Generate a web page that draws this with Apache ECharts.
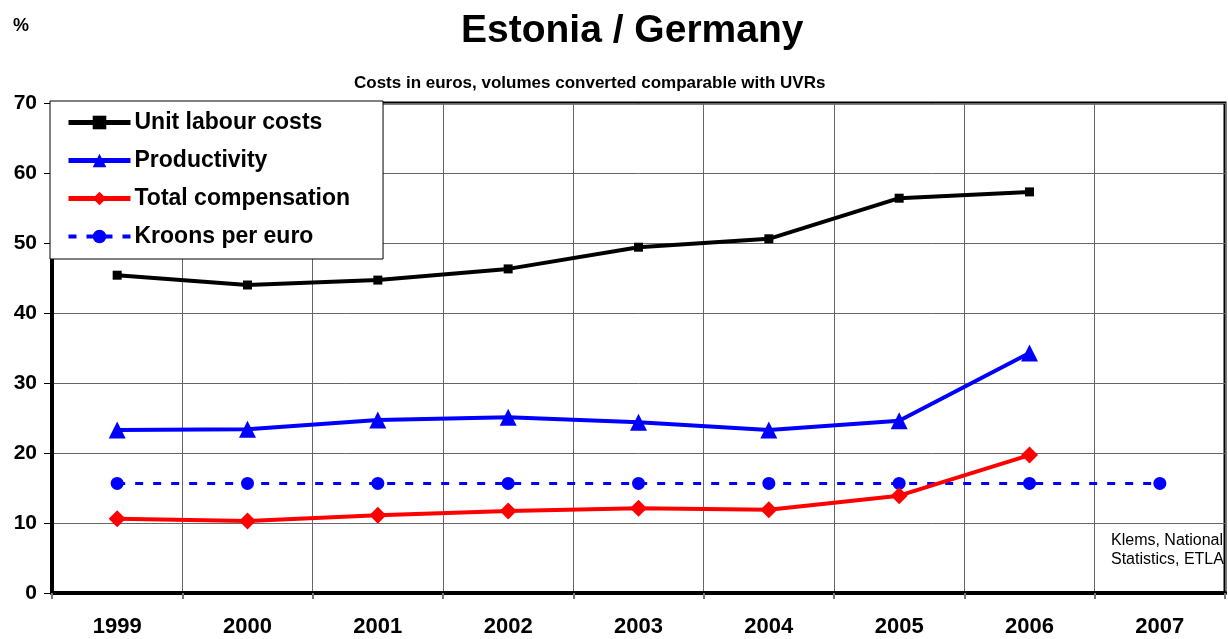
<!DOCTYPE html>
<html>
<head>
<meta charset="utf-8">
<script src="https://cdn.jsdelivr.net/npm/echarts@6/dist/echarts.min.js"></script>
<style>
  html, body { margin: 0; padding: 0; background: #fff; }
  #main { width: 1228px; height: 639px; }
</style>
</head>
<body>
<div id="main"></div>
<script>
// years on the x axis
var years = ['1999', '2000', '2001', '2002', '2003', '2004', '2005', '2006', '2007'];
// series, % Estonia vs Germany
var unitLabourCosts = [45.4, 44.0, 44.7, 46.3, 49.4, 50.6, 56.4, 57.3, null];
var productivity = [23.3, 23.4, 24.7, 25.1, 24.4, 23.3, 24.6, 34.3, null];
var totalCompensation = [10.6, 10.3, 11.1, 11.7, 12.1, 11.9, 13.9, 19.7, null];
var kroonsPerEuro = [15.65, 15.65, 15.65, 15.65, 15.65, 15.65, 15.65, 15.65, 15.65];

var font = '"Liberation Sans", Arial, sans-serif';
var chart = echarts.init(document.getElementById('main'));

chart.setOption({
  animation: false,
  textStyle: { fontFamily: font },
  title: [
    {
      text: 'Estonia / Germany',
      left: 456,
      top: 7,
      textStyle: { fontFamily: font, fontSize: 39, fontWeight: 'bold', color: '#000' }
    },
    {
      text: '%',
      left: 8,
      top: 12,
      textStyle: { fontFamily: font, fontSize: 18, fontWeight: 'bold', color: '#000' }
    },
    {
      text: 'Costs in euros, volumes converted comparable with UVRs',
      left: 349,
      top: 70,
      textStyle: { fontFamily: font, fontSize: 17, fontWeight: 'bold', color: '#000' }
    },
    {
      text: 'Klems, National\nStatistics, ETLA',
      left: 1106,
      top: 526,
      textStyle: { fontFamily: font, fontSize: 16, fontWeight: 'normal', color: '#000', lineHeight: 19 }
    }
  ],
  legend: {
    orient: 'vertical',
    left: 50,
    top: 101,
    padding: [10, 33, 11, 16],
    itemGap: 15,
    itemWidth: 62,
    itemHeight: 17,
    backgroundColor: '#fff',
    borderColor: '#000',
    borderWidth: 1,
    textStyle: { fontFamily: font, fontSize: 23, fontWeight: 'bold', color: '#000', padding: [0, 0, 0, -1] },
    data: [
      { name: 'Unit labour costs', lineStyle: { width: 5 } },
      { name: 'Productivity', lineStyle: { width: 5 } },
      { name: 'Total compensation', lineStyle: { width: 5 } },
      { name: 'Kroons per euro', lineStyle: { width: 4 } }
    ]
  },
  grid: {
    left: 52,
    right: 3,
    top: 103,
    bottom: 46,
    show: true,
    borderColor: '#000',
    borderWidth: 3
  },
  xAxis: {
    type: 'category',
    data: years,
    boundaryGap: true,
    axisLine: { lineStyle: { color: '#000', width: 4 } },
    axisTick: { show: true, length: 6, lineStyle: { color: '#777', width: 2 } },
    axisLabel: { fontFamily: font, fontSize: 22, fontWeight: 'bold', color: '#000', margin: 23 },
    splitLine: { show: true, interval: 0, lineStyle: { color: '#666', width: 1 } }
  },
  yAxis: {
    type: 'value',
    min: 0,
    max: 70,
    interval: 10,
    axisLine: { show: true, lineStyle: { color: '#000', width: 4 } },
    axisTick: { show: true, length: 8, lineStyle: { color: '#000', width: 1 } },
    axisLabel: { fontFamily: font, fontSize: 21, fontWeight: 'bold', color: '#000', margin: 15 },
    splitLine: { show: true, lineStyle: { color: '#666', width: 1 } }
  },
  series: [
    {
      name: 'Unit labour costs',
      type: 'line',
      data: unitLabourCosts,
      symbol: 'rect',
      symbolSize: 9,
      color: '#000',
      lineStyle: { width: 4, color: '#000' },
      itemStyle: { color: '#000' },
      z: 5
    },
    {
      name: 'Productivity',
      type: 'line',
      data: productivity,
      symbol: 'triangle',
      symbolSize: 17,
      color: '#0000ff',
      lineStyle: { width: 4, color: '#0000ff' },
      itemStyle: { color: '#0000ff' },
      z: 5
    },
    {
      name: 'Total compensation',
      type: 'line',
      data: totalCompensation,
      symbol: 'diamond',
      symbolSize: 17,
      color: '#ff0000',
      lineStyle: { width: 4, color: '#ff0000' },
      itemStyle: { color: '#ff0000' },
      z: 4
    },
    {
      name: 'Kroons per euro',
      type: 'line',
      data: kroonsPerEuro,
      symbol: 'circle',
      symbolSize: 13,
      color: '#0000ff',
      lineStyle: { width: 3, color: '#0000ff', type: [8, 10] },
      itemStyle: { color: '#0000ff' },
      z: 3
    }
  ]
});
</script>
</body>
</html>
